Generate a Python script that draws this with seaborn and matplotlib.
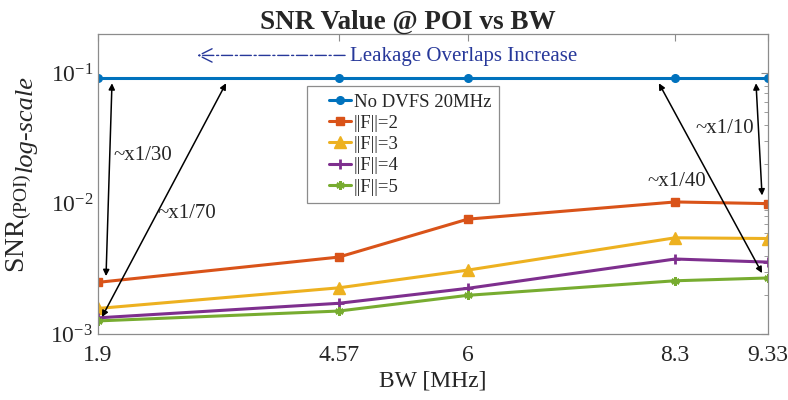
import numpy as np
import pandas as pd
import matplotlib
matplotlib.use("Agg")
import matplotlib.pyplot as plt
import seaborn as sns
from matplotlib.ticker import LogLocator, LogFormatterSciNotation, FixedLocator
from matplotlib.lines import Line2D
from matplotlib.legend_handler import HandlerLine2D

bw = [1.9, 4.57, 6, 8.3, 9.33]
bw_labels = ["1.9", "4.57", "6", "8.3", "9.33"]
series_names = ["No DVFS 20MHz", "||F||=2", "||F||=3", "||F||=4", "||F||=5"]
no_dvfs = [0.092, 0.092, 0.092, 0.092, 0.092]
f2 = [2.49e-3, 3.89e-3, 7.6e-3, 1.03e-2, 1.0e-2]
f3 = [1.57e-3, 2.26e-3, 3.09e-3, 5.47e-3, 5.4e-3]
f4 = [1.33e-3, 1.72e-3, 2.24e-3, 3.76e-3, 3.56e-3]
f5 = [1.26e-3, 1.50e-3, 1.98e-3, 2.56e-3, 2.69e-3]
colors = ["#0072BD", "#D95319", "#EDB120", "#7E2F8E", "#77AC30"]

sns.set_style("white")
plt.rcParams["font.family"] = ["Liberation Serif", "DejaVu Serif"]
plt.rcParams["mathtext.fontset"] = "custom"
plt.rcParams["mathtext.rm"] = "Liberation Serif"
plt.rcParams["mathtext.it"] = "Liberation Serif:italic"
plt.rcParams["mathtext.bf"] = "Liberation Serif:bold"

fig = plt.figure(figsize=(7.88, 4.0), dpi=100)
ax = fig.add_axes([98/788, 66/400, 670/788, 300/400])

marker_list = ["o", "s", "^", "+", (6, 2, 0)]
msizes = [5.5, 5.5, 8.5, 6.5, 6]
mews = [1, 1, 1, 2, 1.8]
for name, vals, c, m, ms, mw in zip(series_names, [no_dvfs, f2, f3, f4, f5],
                                    colors, marker_list, msizes, mews):
    d = pd.DataFrame({"BW": bw, "SNR": vals})
    sns.lineplot(data=d, x="BW", y="SNR", color=c, marker=m, markersize=ms,
                 markeredgecolor=c, markerfacecolor=c, markeredgewidth=mw,
                 linewidth=2.2, label=name, ax=ax)

ax.set_yscale("log")
ax.set_xlim(1.9, 9.33)
ax.set_ylim(1e-3, 0.2)
ax.xaxis.set_major_locator(FixedLocator(bw))
ax.set_xticklabels(bw_labels)
ax.yaxis.set_major_locator(LogLocator(base=10, numticks=10))
ax.yaxis.set_major_formatter(LogFormatterSciNotation())
ax.yaxis.set_minor_locator(LogLocator(base=10, subs=np.arange(2, 10), numticks=20))
ax.tick_params(axis="both", which="both", direction="in", top=True, right=True,
               color="#8c8c8c", labelcolor="#262626")
ax.tick_params(axis="both", which="major", length=5, labelsize=17)
ax.tick_params(axis="y", which="minor", length=3)
ax.tick_params(axis="x", which="major", pad=8)
for s in ax.spines.values():
    s.set_color("#8c8c8c")
    s.set_linewidth(0.9)

ax.set_xlabel("BW [MHz]", fontsize=17, color="#262626", labelpad=3)
ax.set_ylabel(r"SNR$_{\mathrm{(POI)}}$", fontsize=20, color="#262626")
ax.yaxis.set_label_coords(-0.095, 0.37)
fig.text(26/788, 1 - 124/400, "log-scale", rotation=90, fontsize=19,
         fontstyle="italic", color="#262626", ha="center", va="center")
ax.set_title("SNR Value @ POI vs BW", fontsize=19.5, fontweight="bold", pad=4,
             x=0.463)

leg = ax.legend(loc="upper left", bbox_to_anchor=(0.312, 0.827), fontsize=13.5,
                frameon=True, fancybox=False, framealpha=1, edgecolor="#8c8c8c",
                handlelength=1.95, handletextpad=0.15, labelspacing=0.22,
                borderpad=0.4, borderaxespad=0,
                handler_map={Line2D: HandlerLine2D(xpad=0.75)})
leg.get_frame().set_linewidth(0.9)

# Annotations
arrow_kw = dict(arrowstyle="<|-|>", color="black", lw=1.1, mutation_scale=9,
                shrinkA=0, shrinkB=0)
ax.annotate("", xy=(2.055, 0.0838), xytext=(1.989, 2.78e-3), arrowprops=arrow_kw)
ax.annotate("", xy=(3.32, 0.0838), xytext=(1.944, 1.35e-3), arrowprops=arrow_kw)
ax.annotate("", xy=(8.12, 0.0838), xytext=(9.264, 2.93e-3), arrowprops=arrow_kw)
ax.annotate("", xy=(9.197, 0.0838), xytext=(9.264, 1.155e-2), arrowprops=arrow_kw)
ax.text(2.066, 0.0236, "~x1/30", fontsize=15, va="center", ha="left")
ax.text(2.554, 8.45e-3, "~x1/70", fontsize=15, va="center", ha="left")
ax.text(7.99, 0.01486, "~x1/40", fontsize=15, va="center", ha="left")
ax.text(8.53, 0.0379, "~x1/10", fontsize=15, va="center", ha="left")

lk = "#27389a"
ax.annotate("", xy=(3.0, 0.137), xytext=(4.64, 0.137),
            arrowprops=dict(arrowstyle="->", color=lk, lw=1.0, linestyle=(0, (8, 2, 1.5, 2)),
                            mutation_scale=24, shrinkA=0, shrinkB=0))
ax.text(4.695, 0.135, "Leakage Overlaps Increase", fontsize=15, color=lk,
        va="center", ha="left")

fig.savefig("out.png", dpi=100)
